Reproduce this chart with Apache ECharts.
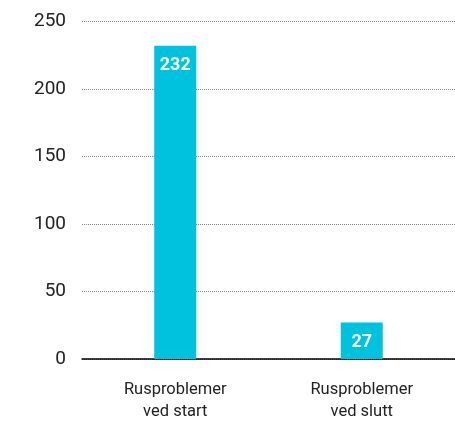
<!DOCTYPE html>
<html><head><meta charset="utf-8">
<script src="https://cdn.jsdelivr.net/npm/echarts@6/dist/echarts.min.js"></script>
<style>html,body{margin:0;padding:0;background:#fff}#c{width:455px;height:423px}</style>
</head><body><div id="c"></div>
<script>
const categories = ['Rusproblemer\nved start', 'Rusproblemer\nved slutt'];
const values = [232, 27];
const yTicks = [0, 50, 100, 150, 200, 250];

const chart = echarts.init(document.getElementById('c'), null, {renderer: 'canvas'});
chart.setOption({
  animation: false,
  grid: {left: 82, right: 0, top: 21.5, bottom: 63},
  xAxis: {
    type: 'category',
    data: categories,
    axisLine: {lineStyle: {color: '#000', width: 1.5}},
    axisTick: {show: false},
    axisLabel: {color: '#222', fontSize: 16.5, fontFamily: 'Roboto', lineHeight: 22, margin: 20}
  },
  yAxis: {
    type: 'value',
    min: yTicks[0], max: yTicks[yTicks.length - 1], interval: 50,
    axisLine: {show: false},
    axisTick: {show: false},
    axisLabel: {color: '#222', fontSize: 19, fontFamily: 'Roboto', margin: 16},
    splitLine: {lineStyle: {color: '#888', type: [1, 1], width: 1}}
  },
  series: [{
    type: 'bar',
    data: values,
    barWidth: 42,
    itemStyle: {color: '#00C2DE'},
    label: {
      show: true, position: 'insideTop', distance: 11,
      color: '#fff', fontWeight: 'bold', fontSize: 18, fontFamily: 'Roboto'
    }
  }]
});
</script></body></html>
